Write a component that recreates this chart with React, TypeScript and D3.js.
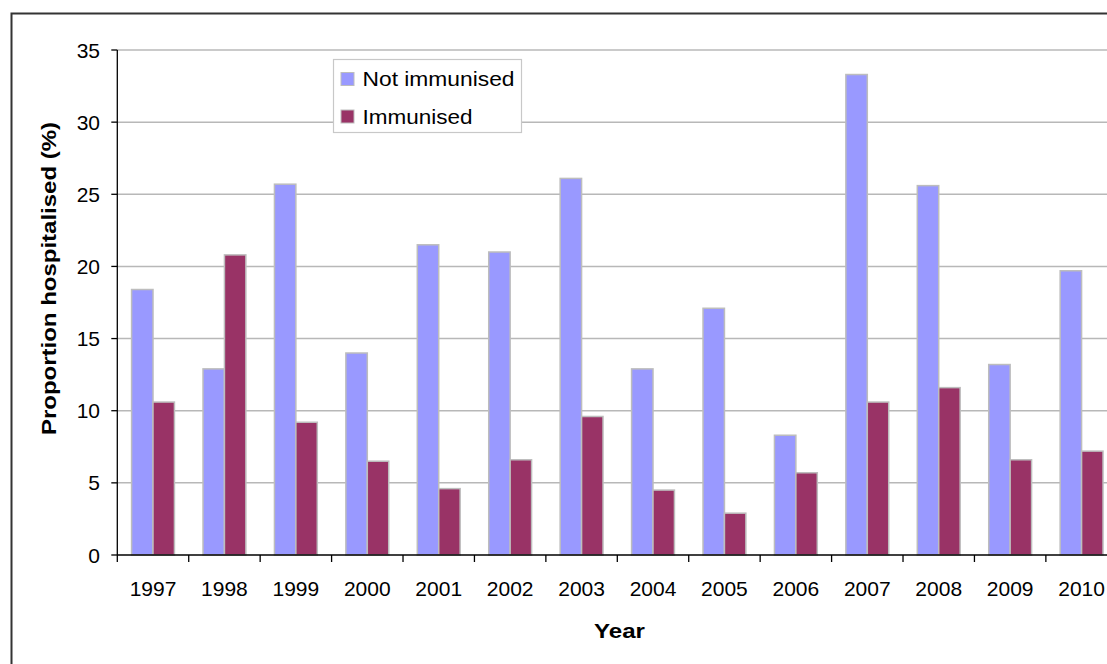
import React from "react";
import * as d3 from "d3";

const years = ["1997", "1998", "1999", "2000", "2001", "2002", "2003", "2004", "2005", "2006", "2007", "2008", "2009", "2010"];
const notImmunised = [18.4, 12.9, 25.7, 14.0, 21.5, 21.0, 26.1, 12.9, 17.1, 8.3, 33.3, 25.6, 13.2, 19.7];
const immunised = [10.6, 20.8, 9.2, 6.5, 4.6, 6.6, 9.6, 4.5, 2.9, 5.7, 10.6, 11.6, 6.6, 7.2];
const seriesNames = ["Not immunised", "Immunised"];
const seriesColors = ["#9999FF", "#993366"];
const yTicks = [0, 5, 10, 15, 20, 25, 30, 35];

const W = 1107;
const H = 664;
const plot = { left: 117.3, top: 50, right: 1117.3, bottom: 555 };
const FONT = "'Liberation Sans', Arial, sans-serif";
const legendTextLen = [152, 110];

export default function App() {
  const x0 = d3.scaleBand<string>().domain(years).range([plot.left, plot.right]).padding(0);
  const bw = x0.bandwidth();
  const x1 = d3.scaleBand<string>().domain(seriesNames).range([bw * 0.2, bw * 0.8]).padding(0);
  const y = d3.scaleLinear().domain([0, 35]).range([plot.bottom, plot.top]);
  const values = [notImmunised, immunised];

  return (
    <svg width={W} height={H} style={{ position: "absolute", left: 0, top: 0, background: "#fff" }} fontFamily={FONT}>
      <rect x={0} y={0} width={W} height={H} fill="#fff" />
      {/* outer chart frame */}
      <rect x={11.5} y={13.5} width={W + 20} height={H + 20} fill="none" stroke="#333" strokeWidth={2} />

      {/* gridlines */}
      {yTicks.filter((t) => t > 0).map((t) => (
        <line key={t} x1={plot.left} x2={plot.right} y1={y(t)} y2={y(t)} stroke="#b8b8b8" strokeWidth={1.5} />
      ))}

      {/* bars */}
      {years.map((yr, i) => (
        <g key={yr} transform={`translate(${x0(yr)},0)`}>
          {seriesNames.map((s, k) => (
            <rect
              key={s}
              x={x1(s)!}
              y={y(values[k][i])}
              width={x1.bandwidth()}
              height={y(0) - y(values[k][i])}
              fill={seriesColors[k]}
              stroke="#bdbdbd"
              strokeWidth={1.5}
            />
          ))}
        </g>
      ))}

      {/* axes */}
      <line x1={plot.left} x2={plot.left} y1={plot.top} y2={plot.bottom} stroke="#000" strokeWidth={1.3} />
      <line x1={plot.left} x2={plot.right} y1={plot.bottom} y2={plot.bottom} stroke="#000" strokeWidth={1.3} />
      {yTicks.map((t) => (
        <g key={t}>
          <line x1={plot.left - 6} x2={plot.left} y1={y(t)} y2={y(t)} stroke="#000" strokeWidth={1.3} />
          <text x={100} y={y(t)} dy="0.36em" textAnchor="end" fontSize={21} fill="#000">
            {t}
          </text>
        </g>
      ))}
      {years.map((yr) => (
        <g key={yr}>
          <line x1={x0(yr)!} x2={x0(yr)!} y1={plot.bottom} y2={plot.bottom + 7} stroke="#000" strokeWidth={1.3} />
          <text x={x0(yr)! + bw / 2} y={596} textAnchor="middle" fontSize={21} fill="#000">
            {yr}
          </text>
        </g>
      ))}

      {/* axis titles */}
      <text x={619.5} y={638} textAnchor="middle" fontSize={21} fontWeight="bold" fill="#000" textLength={51} lengthAdjust="spacingAndGlyphs">
        Year
      </text>
      <text
        transform="translate(56,278.5) rotate(-90)"
        textAnchor="middle"
        fontSize={21}
        fontWeight="bold"
        fill="#000"
        textLength={313}
        lengthAdjust="spacingAndGlyphs"
      >
        Proportion hospitalised  (%)
      </text>

      {/* legend */}
      <g>
        <rect x={333.5} y={59.5} width={188} height={73} fill="#fff" stroke="#c8c8c8" strokeWidth={1.2} />
        {seriesNames.map((s, k) => (
          <g key={s} transform={`translate(0,${k * 37.5})`}>
            <rect x={341} y={72.5} width={13} height={13} fill={seriesColors[k]} stroke="#bdbdbd" strokeWidth={1} />
            <text x={362.5} y={86} fontSize={21} fill="#000" textLength={legendTextLen[k]} lengthAdjust="spacingAndGlyphs">
              {s}
            </text>
          </g>
        ))}
      </g>
    </svg>
  );
}
